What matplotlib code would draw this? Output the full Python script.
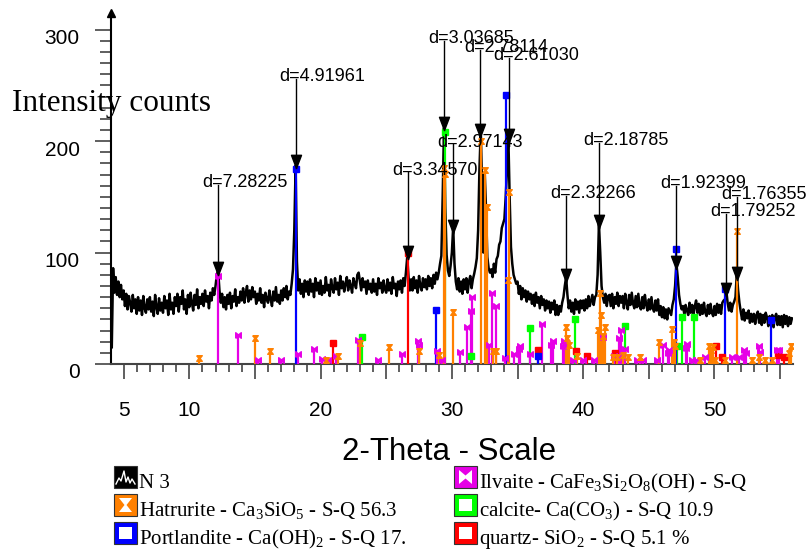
import numpy as np
import matplotlib
matplotlib.use('Agg')
import matplotlib.pyplot as plt
import matplotlib.patches as mpatches
from matplotlib.path import Path
from matplotlib.ticker import MultipleLocator, FixedLocator, FuncFormatter
from matplotlib.transforms import ScaledTranslation

plt.rcParams['font.family'] = 'Liberation Sans'
plt.rcParams['mathtext.fontset'] = 'custom'
plt.rcParams['mathtext.rm'] = 'Liberation Serif'

# scan N 3 : cuentas leidas cada 0.1 grados desde 4.1
scan_start = 4.1
scan_step = 0.1
scan_counts = [
    15, 86, 64, 78, 62, 74, 60, 71, 58,
    66, 52, 63, 49, 61, 55, 47, 62, 50, 58,
    45, 60, 48, 57, 44, 61, 50, 46, 58, 49,
    60, 47, 56, 43, 62, 51, 45, 59, 48, 55,
    46, 61, 50, 57, 44, 63, 49, 55, 45, 60,
    52, 63, 47, 60, 54, 66, 49, 58, 45, 62,
    51, 64, 55, 48, 62, 53, 67, 50, 60, 54,
    63, 52, 66, 56, 61, 50, 64, 57, 68, 62,
    70, 80, 84, 66, 55, 63, 51, 60, 49, 62,
    54, 64, 50, 61, 56, 67, 52, 60, 55, 65,
    57, 68, 55, 64, 70, 56, 66, 58, 69, 60,
    65, 54, 63, 57, 68, 55, 62, 51, 64, 58,
    55, 66, 58, 52, 65, 57, 69, 56, 62, 54,
    66, 57, 68, 60, 70, 58, 65, 62, 72, 85,
    120, 178, 92, 66, 76, 63, 72, 60, 75, 65,
    74, 62, 76, 65, 72, 60, 77, 66, 73, 63,
    75, 62, 70, 64, 78, 66, 71, 61, 76, 68,
    64, 77, 67, 73, 62, 79, 68, 74, 65, 72,
    78, 66, 75, 70, 64, 77, 72, 68, 80, 82,
    74, 66, 77, 69, 74, 63, 75, 67, 72, 64,
    76, 65, 72, 62, 77, 68, 73, 64, 75, 67,
    64, 76, 66, 73, 63, 78, 68, 72, 61, 74,
    67, 75, 64, 77, 70, 82, 96, 78, 66, 76,
    66, 78, 68, 75, 64, 79, 70, 66, 77, 69,
    76, 67, 79, 70, 77, 68, 80, 72, 82, 76,
    82, 90, 97, 150, 212, 140, 98, 84, 79, 88,
    100, 123, 90, 74, 67, 77, 65, 74, 63, 76,
    67, 77, 64, 74, 79, 68, 76, 81, 87, 95,
    120, 175, 210, 160, 100, 172, 140, 96, 86, 82,
    85, 78, 90, 82, 94, 97, 107, 110, 122, 126,
    130, 150, 175, 205, 150, 105, 90, 80, 76, 72,
    74, 63, 70, 58, 68, 60, 66, 56, 65, 58,
    63, 54, 62, 52, 64, 55, 60, 50, 61, 53,
    58, 48, 57, 50, 56, 46, 55, 49, 57, 44,
    53, 44, 52, 47, 55, 60, 70, 78, 62, 50,
    57, 47, 55, 45, 58, 49, 56, 46, 57, 50,
    57, 48, 58, 50, 61, 52, 57, 62, 53, 60,
    62, 80, 126, 100, 70, 60, 55, 63, 52, 61,
    62, 52, 63, 50, 60, 54, 64, 52, 61, 55,
    61, 50, 63, 55, 49, 62, 53, 64, 54, 50,
    61, 51, 63, 52, 49, 60, 50, 62, 53, 48,
    58, 49, 60, 50, 47, 57, 48, 58, 44, 52,
    42, 51, 41, 49, 40, 50, 47, 44, 53, 58,
    70, 90, 78, 62, 54, 49, 52, 45, 53, 48,
    44, 55, 46, 53, 44, 52, 57, 46, 54, 44,
    53, 45, 55, 46, 43, 53, 45, 54, 46, 43,
    52, 44, 54, 46, 53, 45, 55, 57, 58, 66,
    55, 48, 55, 47, 53, 56, 60, 82, 66, 55,
    47, 40, 49, 39, 46, 41, 48, 37, 45, 38,
    45, 36, 44, 47, 37, 45, 35, 44, 37, 46,
    42, 34, 43, 35, 44, 33, 42, 45, 35, 43,
    35, 43, 33, 44, 36, 43, 34, 42, 36, 41,
]
scan_theta = scan_start + scan_step * np.arange(len(scan_counts))

# fases de referencia (2theta, cuentas)
hatrurite_pos = [10.72, 15.0, 16.17, 20.39, 21.32, 23.0, 25.23, 27.47, 29.0, 29.4, 29.47, 30.06,
                 32.22, 32.52, 32.65, 33.15, 33.34, 34.3, 34.35, 38.66, 38.79, 38.92, 39.55,
                 41.13, 41.28, 41.38, 41.5, 41.63, 42.29, 42.55, 43.0, 43.41, 44.33, 45.75,
                 46.76, 46.92, 47.01, 48.9, 49.56, 49.71, 49.91, 50.06, 50.82, 51.7, 52.83,
                 53.37, 53.85, 54.4, 55.65, 55.8]
hatrurite_int = [5.4, 23, 11.3, 4, 7.5, 19, 15.5, 11.3, 7.7, 175.8, 170.4, 46.6,
                 199.7, 174, 140.5, 11.3, 11.3, 75.6, 154, 33, 23.3, 17.3, 7.5,
                 30.8, 64, 44, 24.8, 32.8, 6.3, 6.3, 8.3, 6.3, 6.3, 19.4,
                 31.1, 19.4, 16.4, 4, 15.8, 12.8, 14.9, 4, 4, 119, 4,
                 6.3, 4, 4, 9.8, 16.4]

portlandite_pos = [18.1, 28.77, 34.12, 36.56, 47.09, 50.78, 54.28]
portlandite_int = [175, 48.7, 241.5, 6.8, 103.4, 67.5, 39.7]

ilvaite_pos = [12.16, 13.71, 15.26, 17.0, 18.25, 19.5, 20.13, 20.56, 21.2, 22.87, 24.4, 26.22,
               27.4, 27.52, 28.9, 29.22, 30.62, 31.13, 31.48, 31.52, 32.85, 33.05, 33.38,
               34.04, 34.75, 35.09, 35.21, 35.95, 36.86, 37.55, 37.68, 38.44, 38.54, 39.2,
               40.0, 40.82, 41.48, 42.35, 42.7, 42.86, 43.21, 44.07, 44.53, 45.6, 46.05,
               46.44, 46.56, 47.83, 47.93, 48.26, 48.59, 49.28, 51.31, 51.87, 52.27, 52.4,
               53.39, 53.46, 54.78, 54.89]
ilvaite_int = [78.6, 25.7, 4, 4, 9.2, 13.4, 4.7, 4, 7.5, 21.8, 4, 9,
               20.9, 17.3, 11.3, 4, 10.4, 32.8, 47.2, 60, 16.7, 63.6, 52.3,
               5, 9, 13.5, 15.8, 9.2, 36.1, 17.3, 20.3, 15.8, 20.3, 4,
               4, 4, 23.9, 7.5, 23.3, 30.8, 13.5, 4, 4, 4, 17,
               9.8, 12.8, 14.3, 17.9, 4, 4, 6.5, 6, 6, 12.8, 9.8,
               15.8, 10.4, 12.8, 12.8]

calcite_pos = [23.13, 29.45, 31.48, 35.97, 39.4, 43.16, 47.17, 47.5, 48.46]
calcite_int = [23.9, 208.6, 7.5, 32.2, 40, 33.8, 15.8, 42, 42]

quartz_pos = [20.94, 26.66, 36.56, 39.45, 40.31, 42.45, 50.09, 50.55, 54.81, 55.27]
quartz_int = [18.5, 99.5, 12.2, 11.3, 7.5, 9.8, 16.4, 6, 8.3, 6]

# picos marcados con su distancia d
peak_labels = ['d=7.28225', 'd=4.91961', 'd=3.34570', 'd=3.03685', 'd=2.97143', 'd=2.78114',
               'd=2.61030', 'd=2.32266', 'd=2.18785', 'd=1.92399', 'd=1.79252', 'd=1.76355']
peak_theta = [12.19, 18.1, 26.66, 29.42, 30.08, 32.18, 34.33, 38.69, 41.2, 47.1, 50.88, 51.74]
peak_top = [80, 176, 94, 210, 118, 204, 199, 74, 122, 85, 61, 75]
label_y = [159, 254, 170, 288, 195, 280, 273, 149, 196.5, 158, 133, 148]

legend_labels = ['N 3',
                 r'Hatrurite - Ca$_\mathrm{3}$SiO$_\mathrm{5}$ - S-Q 56.3',
                 r'Portlandite - Ca(OH)$_\mathrm{2}$ - S-Q 17.',
                 r'Ilvaite - CaFe$_\mathrm{3}$Si$_\mathrm{2}$O$_\mathrm{8}$(OH) - S-Q',
                 r'calcite- Ca(CO$_\mathrm{3}$) - S-Q 10.9',
                 r'quartz- SiO$_\mathrm{2}$ - S-Q 5.1 %']

c_orange = '#FF8000'
c_blue = '#0000FF'
c_magenta = '#E600E6'
c_green = '#00FF00'
c_red = '#FF0000'

hourglass = Path([(-1, 1), (1, 1), (0.2, 0), (1, -1), (-1, -1), (-0.2, 0), (-1, 1)])
bowtie = Path([(-1, -1), (-1, 1), (0, 0.2), (1, 1), (1, -1), (0, -0.2), (-1, -1)])
arrow_tip = Path([(0, 0), (-0.38, 1), (0.38, 1), (0, 0)])

W, H = 811, 552
fig = plt.figure(figsize=(W / 100, H / 100), dpi=100)
ax = fig.add_axes([111 / W, 1 - 364 / H, (793 - 111) / W, (364 - 13) / H])
ax.set_xlim(4.04, 55.98)
ax.set_ylim(0, 315)

# linea del difractograma
ax.plot(scan_theta, scan_counts, color='black', lw=1.8, zorder=2)

# barras de las fases
phases = [(quartz_pos, quartz_int, c_red, 's', 4),
          (calcite_pos, calcite_int, c_green, 's', 4),
          (portlandite_pos, portlandite_int, c_blue, 's', 4),
          (ilvaite_pos, ilvaite_int, c_magenta, bowtie, 4),
          (hatrurite_pos, hatrurite_int, c_orange, hourglass, 4)]
for pos, inten, col, mk, ms in phases:
    ax.vlines(pos, 0, inten, color=col, lw=1.6, zorder=3)
    ax.plot(pos, inten, ls='none', marker=mk, ms=ms, color=col, mec=col, zorder=4)

# flechas con d
for lab, th, top, ly in zip(peak_labels, peak_theta, peak_top, label_y):
    ax.plot([th, th], [top, ly + 2], color='black', lw=1.0, zorder=5)
    ax.plot([th], [top], marker=arrow_tip, ms=19, color='black', zorder=6)
    ax.annotate(lab, xy=(th, ly), xytext=(-11.5, 0), textcoords='offset points',
                ha='left', va='baseline', fontsize=13, zorder=7)

# ejes
ax.spines['top'].set_visible(False)
ax.spines['right'].set_visible(False)
ax.spines['left'].set_linewidth(1.5)
ax.spines['bottom'].set_linewidth(1.5)
ax.spines['bottom'].set_color('#444444')
ax.plot([0], [1], marker='^', ms=6, color='black', transform=ax.transAxes, clip_on=False)

shown = [5, 10, 20, 30, 40, 50]
ax.xaxis.set_major_locator(MultipleLocator(5))
ax.xaxis.set_minor_locator(MultipleLocator(1))
ax.xaxis.set_major_formatter(FuncFormatter(lambda v, p: str(int(round(v))) if int(round(v)) in shown else ''))
ax.tick_params(axis='x', which='major', length=10.5, width=1.2, color='#444444', pad=16, labelsize=15)
ax.tick_params(axis='x', which='minor', length=5.8, width=1.2, color='#444444')

ax.yaxis.set_major_locator(FixedLocator([0, 100, 200, 300]))
ax.yaxis.set_minor_locator(FixedLocator(list(range(0, 301, 10))))
ax.tick_params(axis='y', which='major', length=11.5, width=1.2, color='#444444', pad=11, labelsize=15)
ax.tick_params(axis='y', which='minor', length=8, width=1.2, color='#444444')
for t in ax.yaxis.get_major_ticks():
    t.label1.set_transform(t.label1.get_transform() + ScaledTranslation(0, -0.07, fig.dpi_scale_trans))

# titulos
fig.text(12 / W, 1 - 103 / H, 'Intensity counts', family='Liberation Serif', fontsize=22.5,
         ha='left', va='center')
fig.text(449 / W, 1 - 452 / H, '2-Theta - Scale', fontsize=22.5, ha='center', va='center')


# leyenda dibujada a mano
def icon(x, y, kind, col):
    w, h = 23, 22
    x0, y0 = x / W, 1 - (y + h) / H
    fw, fh = w / W, h / H
    fig.patches.append(mpatches.Rectangle((x0, y0), fw, fh, transform=fig.transFigure,
                                          facecolor=col, edgecolor='#333333', lw=0.8))
    if kind == 'frame':
        fig.patches.append(mpatches.Rectangle((x0 + 5 / W, y0 + 5 / H), (w - 10) / W, (h - 10) / H,
                                              transform=fig.transFigure, facecolor='white', lw=0))
    elif kind == 'hour':
        pts = [(5, 4), (18, 4), (12.5, 11), (18, 18), (5, 18), (10.5, 11)]
        fig.patches.append(mpatches.Polygon([(x0 + a / W, 1 - (y + b) / H) for a, b in pts],
                                            transform=fig.transFigure, facecolor='white', lw=0))
    elif kind == 'bow':
        pts = [(5, 4), (11.5, 9.5), (18, 4), (18, 18), (11.5, 12.5), (5, 18)]
        fig.patches.append(mpatches.Polygon([(x0 + a / W, 1 - (y + b) / H) for a, b in pts],
                                            transform=fig.transFigure, facecolor='white', lw=0))
    elif kind == 'scan':
        pts = [(2, 18), (5, 12), (7, 15), (10, 5), (12, 16), (14, 11), (16, 17), (18, 13), (21, 18)]
        fig.lines.append(plt.Line2D([x0 + a / W for a, b in pts], [1 - (y + b) / H for a, b in pts],
                                    transform=fig.transFigure, color='white', lw=1.0))


legend_kinds = [('scan', 'black'), ('hour', c_orange), ('frame', c_blue),
                ('bow', c_magenta), ('frame', c_green), ('frame', c_red)]
rows_y = [466, 494, 522]
for i, (lab, (kind, col)) in enumerate(zip(legend_labels, legend_kinds)):
    ix = 114 if i < 3 else 454
    iy = rows_y[i % 3]
    icon(ix, iy, kind, col)
    fig.text((ix + 25) / W, 1 - (iy + 22) / H, lab, family='Liberation Serif', fontsize=15,
             ha='left', va='baseline')

fig.savefig('out.png', dpi=100)
